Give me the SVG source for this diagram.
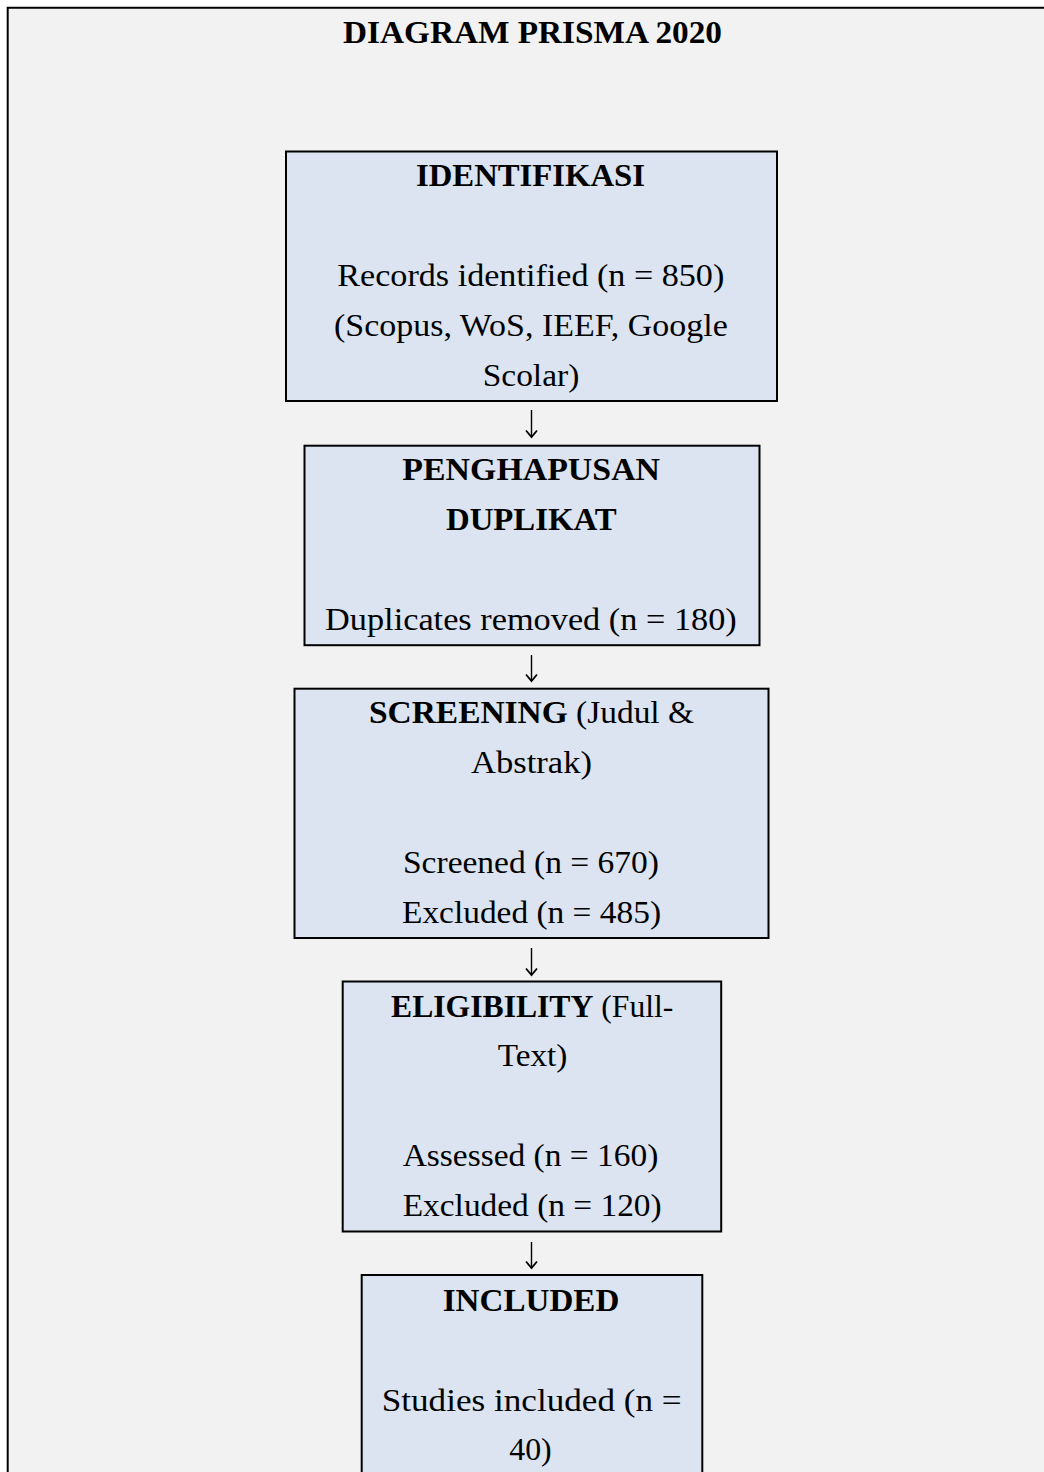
<svg xmlns="http://www.w3.org/2000/svg" width="1044" height="1472" viewBox="0 0 1044 1472">
  <style>
    .t { font-family: "Liberation Serif", "Times New Roman", serif; font-size: 32px; fill: #000; text-anchor: middle; }
    .b { font-weight: bold; }
    .box { fill: #dbe4f0; stroke: #000; stroke-width: 2; }
    .conn { stroke: #000; stroke-width: 1.4; fill: none; }
    .head { stroke: #000; stroke-width: 1.8; fill: none; stroke-linejoin: miter; }
  </style>
  <rect x="0" y="0" width="1044" height="1472" fill="#ffffff"/>
  <rect x="7.7" y="7.7" width="1037" height="1465" fill="#f2f2f2"/>
  <path d="M7.7 1472 L7.7 7.7 L1044 7.7" fill="none" stroke="#000" stroke-width="2"/>

  <g id="title">
    <text class="t b" x="532.5" y="43" textLength="379" lengthAdjust="spacingAndGlyphs">DIAGRAM PRISMA 2020</text>
  </g>

  <g id="node-identifikasi">
    <rect class="box" x="286" y="151.5" width="491" height="249.5"/>
    <text class="t b" x="530.5" y="186" textLength="229" lengthAdjust="spacingAndGlyphs">IDENTIFIKASI</text>
    <text class="t" x="530.8" y="286" textLength="387" lengthAdjust="spacingAndGlyphs">Records identified (n = 850)</text>
    <text class="t" x="530.9" y="336" textLength="393.7" lengthAdjust="spacingAndGlyphs">(Scopus, WoS, IEEF, Google</text>
    <text class="t" x="531" y="386" textLength="96.6" lengthAdjust="spacingAndGlyphs">Scolar)</text>
  </g>

  <g id="node-penghapusan">
    <rect class="box" x="304.5" y="445.7" width="455" height="199.5"/>
    <text class="t b" x="531.2" y="480" textLength="257.7" lengthAdjust="spacingAndGlyphs">PENGHAPUSAN</text>
    <text class="t b" x="531.3" y="530" textLength="170.7" lengthAdjust="spacingAndGlyphs">DUPLIKAT</text>
    <text class="t" x="530.9" y="630" textLength="411.7" lengthAdjust="spacingAndGlyphs">Duplicates removed (n = 180)</text>
  </g>

  <g id="node-screening">
    <rect class="box" x="294.5" y="688.7" width="474" height="249.3"/>
    <text class="t" x="531.5" y="723" textLength="325" lengthAdjust="spacingAndGlyphs"><tspan class="b">SCREENING</tspan> (Judul &amp;</text>
    <text class="t" x="531.5" y="773" textLength="121" lengthAdjust="spacingAndGlyphs">Abstrak)</text>
    <text class="t" x="531" y="873" textLength="256" lengthAdjust="spacingAndGlyphs">Screened (n = 670)</text>
    <text class="t" x="531.5" y="923" textLength="259" lengthAdjust="spacingAndGlyphs">Excluded (n = 485)</text>
  </g>

  <g id="node-eligibility">
    <rect class="box" x="342.7" y="981.5" width="378.5" height="250"/>
    <text class="t" x="532.2" y="1017" textLength="282.3" lengthAdjust="spacingAndGlyphs"><tspan class="b">ELIGIBILITY</tspan> (Full-</text>
    <text class="t" x="532.5" y="1066" textLength="69.6" lengthAdjust="spacingAndGlyphs">Text)</text>
    <text class="t" x="530.5" y="1166" textLength="255.6" lengthAdjust="spacingAndGlyphs">Assessed (n = 160)</text>
    <text class="t" x="532.2" y="1216" textLength="259" lengthAdjust="spacingAndGlyphs">Excluded (n = 120)</text>
  </g>

  <g id="node-included">
    <rect class="box" x="361.7" y="1275" width="340.6" height="220"/>
    <text class="t b" x="531" y="1311" textLength="176.6" lengthAdjust="spacingAndGlyphs">INCLUDED</text>
    <text class="t" x="531.7" y="1411" textLength="300" lengthAdjust="spacingAndGlyphs">Studies included (n =</text>
    <text class="t" x="530.5" y="1460" textLength="42.4" lengthAdjust="spacingAndGlyphs">40)</text>
  </g>

  <g id="connectors">
    <path class="conn" d="M531.5 410 V436.5"/>
    <path class="head" d="M526 430.5 L531.5 437 L537 430.5"/>
    <path class="conn" d="M531.5 655 V680.5"/>
    <path class="head" d="M526 674.5 L531.5 681 L537 674.5"/>
    <path class="conn" d="M531.5 948 V974.5"/>
    <path class="head" d="M526 968.5 L531.5 975 L537 968.5"/>
    <path class="conn" d="M531.5 1242 V1267.5"/>
    <path class="head" d="M526 1261.5 L531.5 1268 L537 1261.5"/>
  </g>
</svg>
